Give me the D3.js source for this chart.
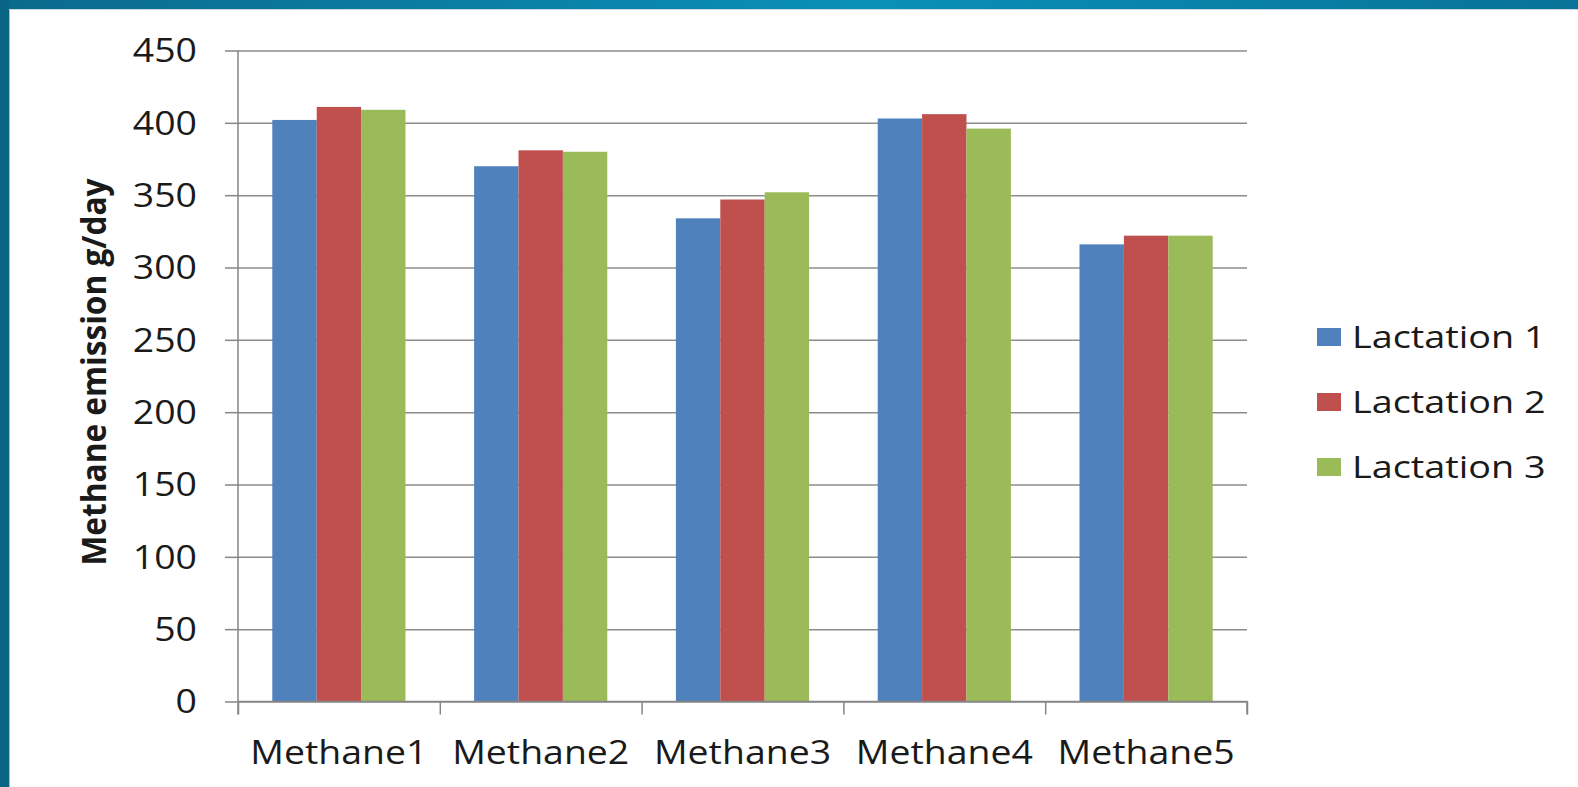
<!DOCTYPE html>
<html>
<head>
<meta charset="utf-8">
<script src="https://cdn.jsdelivr.net/npm/d3@7"></script>
<style>
  body { margin: 0; background: #fff; }
  svg { display: block; }
  text { font-family: "Open Sans", sans-serif; fill: #1a1a1a; }
</style>
</head>
<body>
<svg></svg>
<script>
var categories = ["Methane1", "Methane2", "Methane3", "Methane4", "Methane5"];
var seriesNames = ["Lactation 1", "Lactation 2", "Lactation 3"];
var lactation1 = [402, 370, 334, 403, 316];
var lactation2 = [411, 381, 347, 406, 322];
var lactation3 = [409, 380, 352, 396, 322];
var yTicks = [0, 50, 100, 150, 200, 250, 300, 350, 400, 450];
var colors = ["#4f81bd", "#c0504d", "#9bbb59"];

var W = 1578, H = 787;
var plotLeft = 238, plotRight = 1247, plotTop = 50.5, plotBottom = 701.5;
var sx = 1.17; // the picture's text is stretched sideways

var svg = d3.select("svg").attr("width", W).attr("height", H);

// frame
var grad = svg.append("defs").append("linearGradient").attr("id", "band");
grad.append("stop").attr("offset", "0%").attr("stop-color", "#0b6a8c");
grad.append("stop").attr("offset", "55%").attr("stop-color", "#0a90b8");
grad.append("stop").attr("offset", "100%").attr("stop-color", "#087297");
svg.append("rect").attr("x", 0).attr("y", 0).attr("width", W).attr("height", 9).attr("fill", "url(#band)");
svg.append("rect").attr("x", 0).attr("y", 0).attr("width", 9).attr("height", H).attr("fill", "#0a6485");
svg.append("line").attr("x1", 9.5).attr("x2", 9.5).attr("y1", 9).attr("y2", H)
  .attr("stroke", "#b8b8b8").attr("stroke-width", 1);
svg.append("line").attr("x1", 9).attr("x2", W).attr("y1", 9.5).attr("y2", 9.5)
  .attr("stroke", "#cfd8dc").attr("stroke-width", 1);

var rows = categories.map(function(c, i) {
  return {cat: c, vals: [lactation1[i], lactation2[i], lactation3[i]]};
});

var x0 = d3.scaleBand().domain(categories).range([plotLeft, plotRight])
  .paddingInner(0.34).paddingOuter(0.17);
var x1 = d3.scaleBand().domain(seriesNames).range([0, x0.bandwidth()]);
var y = d3.scaleLinear().domain([0, 450]).range([plotBottom, plotTop]);
var xb = d3.scaleLinear().domain([0, categories.length]).range([plotLeft, plotRight]);

// gridlines
svg.append("g").attr("transform", "translate(" + plotLeft + ",0)")
  .call(d3.axisLeft(y).tickValues(yTicks).tickSize(-(plotRight - plotLeft)).tickFormat(""))
  .call(function(g) {
    g.select(".domain").remove();
    g.selectAll("line").attr("stroke", "#8c8c8c").attr("stroke-width", 1.5);
  });

// bars
var grp = svg.append("g").selectAll("g").data(rows).enter().append("g")
  .attr("transform", function(d) { return "translate(" + x0(d.cat) + ",0)"; });
grp.selectAll("rect").data(function(d) { return d.vals; }).enter().append("rect")
  .attr("x", function(d, i) { return x1(seriesNames[i]); })
  .attr("width", x1.bandwidth())
  .attr("y", function(d) { return y(d); })
  .attr("height", function(d) { return y(0) - y(d); })
  .attr("fill", function(d, i) { return colors[i]; });

// y axis
var yAxis = svg.append("g").attr("transform", "translate(" + plotLeft + ",0)")
  .call(d3.axisLeft(y).tickValues(yTicks).tickSize(13).tickPadding(28));
yAxis.select(".domain").attr("stroke", "#868686").attr("stroke-width", 1.5)
  .attr("d", "M0," + plotTop + "V" + (plotBottom + 13));
yAxis.selectAll("line").attr("stroke", "#868686").attr("stroke-width", 1.5);
yAxis.selectAll("text")
  .attr("font-size", 32).attr("fill", "#1a1a1a")
  .attr("x", -41 / sx).attr("dy", "0.35em")
  .attr("transform", "scale(" + sx + ",1)");

// x axis: boundary ticks
var xAxis = svg.append("g").attr("transform", "translate(0," + plotBottom + ")")
  .call(d3.axisBottom(xb).ticks(categories.length).tickSize(13).tickFormat(""));
xAxis.select(".domain").attr("stroke", "#868686").attr("stroke-width", 1.5)
  .attr("d", "M" + plotLeft + ",0H" + plotRight + "V13");
xAxis.selectAll("line").attr("stroke", "#868686").attr("stroke-width", 1.5);

// x labels
var xLab = svg.append("g").attr("transform", "translate(0," + plotBottom + ")")
  .call(d3.axisBottom(x0).tickSize(0).tickPadding(0));
xLab.select(".domain").remove();
xLab.selectAll(".tick text")
  .attr("font-size", 32).attr("fill", "#1a1a1a")
  .attr("y", 63).attr("dy", 0)
  .attr("transform", "scale(" + sx + ",1)");
xLab.selectAll(".tick").attr("transform", function(d) {
  return "translate(" + (x0(d) + x0.bandwidth() / 2) + ",0)";
});

// y title
svg.append("text")
  .attr("transform", "translate(106,372) rotate(-90)")
  .attr("text-anchor", "middle")
  .attr("font-family", "'Liberation Sans', Arial, sans-serif")
  .attr("font-weight", "bold").attr("font-size", 34)
  .attr("textLength", 387).attr("lengthAdjust", "spacingAndGlyphs")
  .attr("fill", "#111")
  .text("Methane emission g/day");

// legend
var leg = svg.append("g").selectAll("g").data(seriesNames).enter().append("g")
  .attr("transform", function(d, i) { return "translate(1317," + (337 + i * 65) + ")"; });
leg.append("rect").attr("x", 0).attr("y", -9).attr("width", 24).attr("height", 18)
  .attr("fill", function(d, i) { return colors[i]; });
leg.append("text")
  .attr("transform", "translate(35,0) scale(1.22,1)")
  .attr("dy", "0.35em").attr("font-size", 31)
  .text(function(d) { return d; });
</script>
</body>
</html>
